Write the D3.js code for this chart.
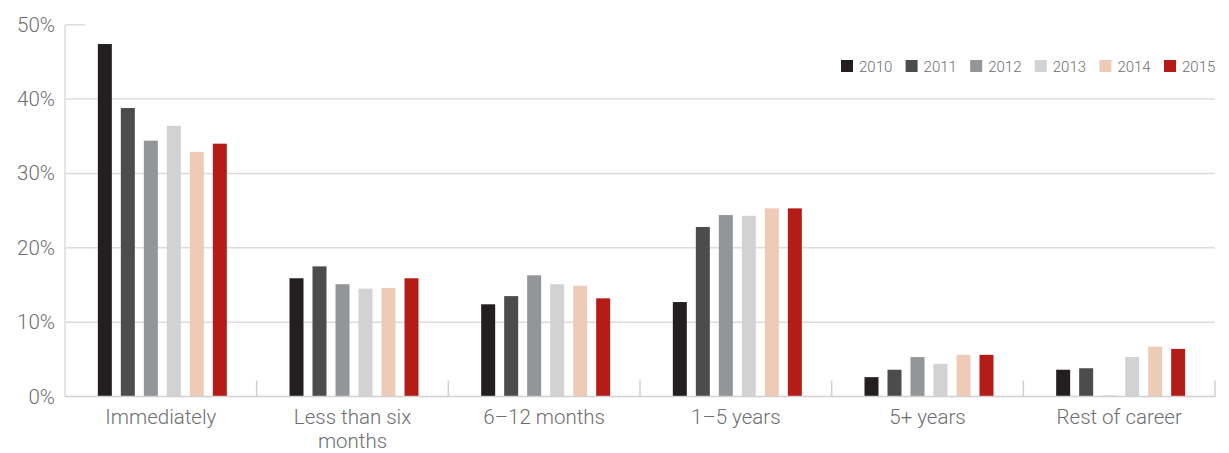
<!DOCTYPE html>
<html>
<head>
<meta charset="utf-8">
<script src="https://cdn.jsdelivr.net/npm/d3@7"></script>
<style>
  html, body { margin: 0; padding: 0; background: #fff; }
  svg { display: block; font-family: Roboto, "Liberation Sans", sans-serif; font-weight: 300; }
</style>
</head>
<body>
<svg id="chart" width="1229" height="453"></svg>
<script>
// Time categories along the x axis
const categories = ["Immediately", "Less than six months", "6–12 months", "1–5 years", "5+ years", "Rest of career"];
// Survey years (one bar per year in each group)
const years = ["2010", "2011", "2012", "2013", "2014", "2015"];
// Share of respondents, percent, per year across the categories
const v2010 = [47.4, 15.9, 12.4, 12.7, 2.6, 3.6];
const v2011 = [38.8, 17.5, 13.5, 22.8, 3.6, 3.8];
const v2012 = [34.4, 15.1, 16.3, 24.4, 5.3, 0.1];
const v2013 = [36.4, 14.5, 15.1, 24.3, 4.4, 5.3];
const v2014 = [32.9, 14.6, 14.9, 25.3, 5.6, 6.7];
const v2015 = [34.0, 15.9, 13.2, 25.3, 5.6, 6.4];
const yTicks = [0, 10, 20, 30, 40, 50];
const yearColors = ["#231f20", "#4b4c4e", "#939598", "#d1d2d4", "#eecbb7", "#b51c18"];

const seriesValues = [v2010, v2011, v2012, v2013, v2014, v2015];
const rows = categories.map((c, i) => ({
  category: c,
  values: years.map((y, j) => ({ year: y, value: seriesValues[j][i] }))
}));

const svg = d3.select("#chart");
const plotLeft = 65, plotRight = 1215, plotTop = 24.7, plotBottom = 396.5;
const groupWidth = 129, groupShift = 1.5;

const x = d3.scaleBand().domain(categories).range([plotLeft, plotRight]);
const xInner = d3.scaleBand().domain(years).range([0, groupWidth]).paddingInner(9 / 23).paddingOuter(0);
const y = d3.scaleLinear().domain([0, 50]).range([plotBottom, plotTop]);
const color = d3.scaleOrdinal().domain(years).range(yearColors);

const labelColor = "#6d6e71";
const gridColor = "#dcdcdc";

// Horizontal gridlines (the top one is only a short stub)
svg.append("g").selectAll("line").data(yTicks.filter(t => t > 0)).join("line")
  .attr("x1", plotLeft).attr("x2", d => d === 50 ? plotLeft + 20 : plotRight)
  .attr("y1", d => y(d)).attr("y2", d => y(d))
  .attr("stroke", gridColor).attr("stroke-width", 1.5);

// Y axis labels
const yAxis = d3.axisLeft(y).tickValues(yTicks).tickFormat(d => d + "%").tickSize(0).tickPadding(10);
const yg = svg.append("g").attr("transform", `translate(${plotLeft},0)`).call(yAxis);
yg.select(".domain").remove();
yg.selectAll("text").attr("fill", labelColor).attr("font-size", 20.5)
  .attr("font-family", "Roboto, sans-serif").attr("font-weight", 300);

// Bars
const groups = svg.append("g").selectAll("g").data(rows).join("g")
  .attr("transform", d => `translate(${x(d.category) + (x.bandwidth() - groupWidth) / 2 + groupShift},0)`);
groups.selectAll("rect").data(d => d.values).join("rect")
  .attr("x", d => xInner(d.year))
  .attr("width", xInner.bandwidth())
  .attr("y", d => y(d.value))
  .attr("height", d => y(0) - y(d.value))
  .attr("fill", d => color(d.year));

// Left axis line and baseline
svg.append("line").attr("x1", plotLeft).attr("x2", plotLeft).attr("y1", plotTop).attr("y2", plotBottom)
  .attr("stroke", gridColor).attr("stroke-width", 1.5);
svg.append("line").attr("x1", plotLeft).attr("x2", plotRight).attr("y1", plotBottom).attr("y2", plotBottom)
  .attr("stroke", "#d0d0d0").attr("stroke-width", 1.5);

// Category separators
const bounds = categories.slice(1).map(c => x(c)).concat([plotRight]);
svg.append("g").selectAll("line").data(bounds).join("line")
  .attr("x1", d => d).attr("x2", d => d).attr("y1", plotBottom - 16).attr("y2", plotBottom)
  .attr("stroke", "#d0d0d0").attr("stroke-width", 1.5);

// Category labels (wrapped when long)
const wrap = { "Less than six months": ["Less than six", "months"] };
const xl = svg.append("g").selectAll("text").data(categories).join("text")
  .attr("x", d => x(d) + x.bandwidth() / 2)
  .attr("y", 424)
  .attr("text-anchor", "middle")
  .attr("fill", labelColor)
  .attr("font-size", 20.5);
xl.each(function (d) {
  const lines = wrap[d] || [d];
  const t = d3.select(this);
  lines.forEach((ln, i) => {
    t.append("tspan").attr("x", x(d) + x.bandwidth() / 2).attr("dy", i === 0 ? 0 : 24).text(ln);
  });
});

// Legend
const legend = svg.append("g").selectAll("g").data(years).join("g")
  .attr("transform", (d, i) => `translate(${841 + i * 64.6},60)`);
legend.append("rect").attr("width", 12).attr("height", 12).attr("fill", d => color(d));
legend.append("text").attr("x", 18).attr("y", 11.5).attr("fill", labelColor)
  .attr("font-size", 15).text(d => d);
</script>
</body>
</html>
